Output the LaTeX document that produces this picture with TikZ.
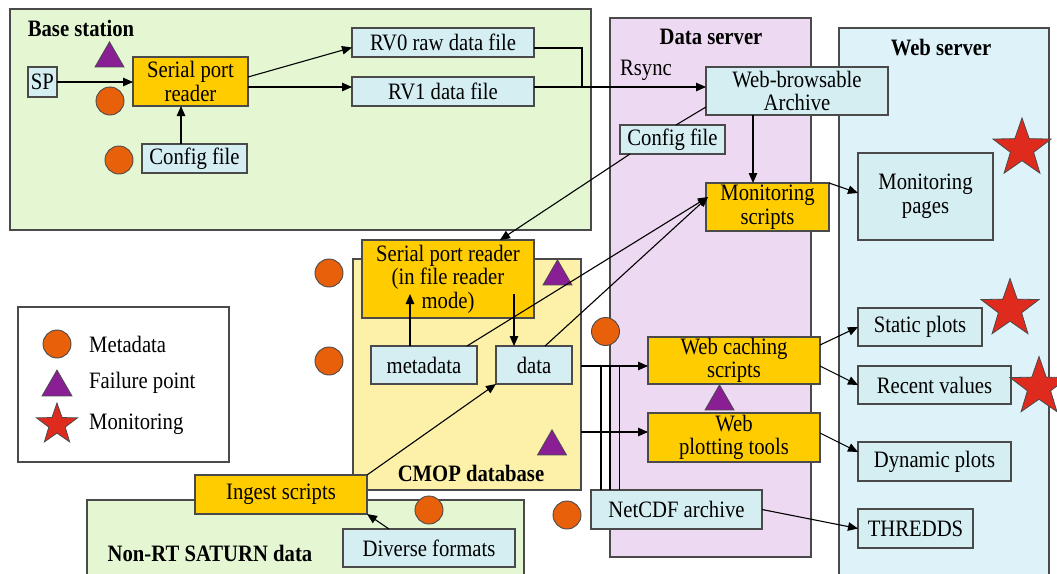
\documentclass[tikz,border=0pt]{standalone}
\usepackage{fontspec}
\setmainfont[FakeStretch=0.88]{Liberation Serif}
\usetikzlibrary{arrows.meta,calc,shapes.geometric}
\definecolor{bsgreen}{HTML}{E5F7D2}
\definecolor{dspink}{HTML}{EED9F3}
\definecolor{wsblue}{HTML}{DEF2FA}
\definecolor{cmopyel}{HTML}{FDF1A9}
\definecolor{boxcyan}{HTML}{D5EEF2}
\definecolor{boxorange}{HTML}{FFCC00}
\definecolor{dotorange}{HTML}{E8600A}
\definecolor{tripurple}{HTML}{8A1E95}
\definecolor{starred}{HTML}{DF2A1E}
\definecolor{edge}{HTML}{4A4A4A}
\begin{document}
\begin{tikzpicture}[x=1pt,y=-1pt,
  every node/.style={font=\fontsize{23.5}{23.5}\selectfont, text=black},
  container/.style={draw=edge, line width=1.2pt, anchor=north west, inner sep=0pt, outer sep=0pt},
  title/.style={font=\bfseries\fontsize{23.5}{23.5}\selectfont, inner sep=0pt},
  filebox/.style={draw=edge, line width=1.2pt, fill=boxcyan, inner sep=0pt, outer sep=0pt, align=center},
  procbox/.style={draw=edge, line width=1.2pt, fill=boxorange, inner sep=0pt, outer sep=0pt, align=center},
  mdot/.style={circle, fill=dotorange, draw=edge, line width=0.9pt, minimum size=28pt, inner sep=0pt},
  fpoint/.style={regular polygon, regular polygon sides=3, fill=tripurple, draw=edge, line width=0.8pt, minimum size=33.5pt, inner sep=0pt},
  mstar/.style={star, star points=5, star point ratio=2.5, fill=starred, draw=edge, line width=0.8pt, minimum size=61pt, inner sep=0pt},
  arr/.style={-{Triangle[length=10pt,width=8.5pt]}, line width=1.1pt},
  link/.style={line width=1.1pt}
]
\useasboundingbox (0,0) rectangle (1057,573);
\clip (0,0) rectangle (1057,573);
\fill[white] (0,0) rectangle (1057,573);

% containers
\node[container, fill=bsgreen, minimum width=581pt, minimum height=221pt] (base) at (10,9) {};
\node[container, fill=dspink, minimum width=201pt, minimum height=539pt] (dserver) at (610,18) {};
\node[container, fill=wsblue, minimum width=210pt, minimum height=570pt] (wserver) at (839,28) {};
\node[container, fill=cmopyel, minimum width=228pt, minimum height=231pt] (cmop) at (353,259) {};
\node[container, fill=bsgreen, minimum width=437pt, minimum height=100pt] (nonrt) at (87,500) {};
\node[container, fill=white, minimum width=211pt, minimum height=155pt] (legend) at (18,307) {};

% titles
\node[title] (tbase) at (81,28) {Base station};
\node[title] (tds) at (711,37) {Data server};
\node[title] (tws) at (941,48) {Web server};
\node[title] (tcmop) at (471,473) {CMOP database};
\node[title] (tnonrt) at (210,553) {Non-RT SATURN data};
\node[inner sep=0pt] (rsync) at (646,70) {Rsync};

% boxes
\node[filebox, minimum width=29pt, minimum height=30pt] (sp) at (42.5,82) {SP};
\node[procbox, minimum width=115pt, minimum height=49pt] (spr) at (190.5,81.5) {Serial port\\reader};
\node[filebox, minimum width=105pt, minimum height=29pt] (cfg1) at (194.5,158.5) {Config file};
\node[filebox, minimum width=182pt, minimum height=29pt] (rv0) at (443,42.5) {RV0 raw data file};
\node[filebox, minimum width=182pt, minimum height=29pt] (rv1) at (443,91.5) {RV1 data file};
\node[filebox, minimum width=182pt, minimum height=48pt] (wba) at (797,91) {Web-browsable\\Archive};
\node[filebox, minimum width=105pt, minimum height=29pt] (cfg2) at (672.5,139.5) {Config file};
\node[procbox, minimum width=123pt, minimum height=48pt] (mon) at (767.5,207) {Monitoring\\scripts};
\node[filebox, minimum width=135pt, minimum height=87pt] (monp) at (925.5,196.5) {Monitoring\\pages};
\node[procbox, minimum width=172pt, minimum height=78pt] (spr2) at (448,279) {Serial port reader\\(in file reader\\mode)};
\node[filebox, minimum width=106pt, minimum height=38pt] (meta) at (424,365) {metadata};
\node[filebox, minimum width=76pt, minimum height=38pt] (data) at (534,365) {data};
\node[procbox, minimum width=172pt, minimum height=47pt] (wcs) at (734,360.5) {Web caching\\scripts};
\node[procbox, minimum width=172pt, minimum height=49pt] (wpt) at (734,437.5) {Web\\plotting tools};
\node[procbox, minimum width=172pt, minimum height=39pt] (ingest) at (281,494.5) {Ingest scripts};
\node[filebox, minimum width=172pt, minimum height=38pt] (diverse) at (429,548) {Diverse formats};
\node[filebox, minimum width=171pt, minimum height=39pt] (netcdf) at (676.5,509.5) {NetCDF archive};
\node[filebox, minimum width=124pt, minimum height=38pt] (static) at (920,327) {Static plots};
\node[filebox, minimum width=153pt, minimum height=38pt] (recent) at (934.5,385) {Recent values};
\node[filebox, minimum width=153pt, minimum height=39pt] (dynamic) at (934.5,461.5) {Dynamic plots};
\node[filebox, minimum width=115pt, minimum height=39pt] (thredds) at (915.5,528.5) {THREDDS};

% markers
\node[mdot] (d1) at (110,101) {};
\node[mdot] (d2) at (119,160) {};
\node[mdot] (d3) at (329,273) {};
\node[mdot] (d4) at (329,361) {};
\node[mdot] (d5) at (605.5,331.5) {};
\node[mdot] (d6) at (429,510) {};
\node[mdot] (d7) at (567,515) {};
\node[fpoint] (f1) at (109.5,58.6) {};
\node[fpoint] (f2) at (557.5,276.6) {};
\node[fpoint] (f3) at (719.5,401.6) {};
\node[fpoint] (f4) at (552,446.6) {};
\node[mstar] (s1) at (1022,148.5) {};
\node[mstar] (s2) at (1010,309) {};
\node[mstar] (s3) at (1039,387) {};

% legend
\node[mdot] (ld) at (57,344) {};
\node[fpoint, minimum size=34.5pt] (lf) at (57,387.3) {};
\node[mstar, minimum size=43pt] (ls) at (57,424.5) {};
\node[anchor=west, inner sep=0pt] (lt1) at (89,344) {Metadata};
\node[anchor=west, inner sep=0pt] (lt2) at (89,383) {Failure point};
\node[anchor=west, inner sep=0pt] (lt3) at (89,424) {Monitoring};

% connectors
\coordinate (j1) at (582,87);
\draw[arr] (sp.east) -- (sp.east -| spr.west);
\draw[arr] ($(spr.east)+(0,-4.5)$) -- ($(rv0.west)+(0,5)$);
\draw[arr] ($(spr.east)+(0,5.5)$) -- ($(rv1.west)+(0,-4.5)$);
\draw[arr] ($(cfg1.north)+(-13.5,0)$) -- ($(spr.south)+(-9.5,0)$);
\draw[link] ($(rv0.east)+(0,5.5)$) -| (j1);
\draw[arr] ($(rv1.east)+(0,-4.5)$) -- ($(wba.west)+(0,-4)$);
\draw[link] ($(wba.west)+(0,16)$) -- ($(cfg2.north)+(3.5,0)$);
\draw[arr] ($(cfg2.south)+(-42.5,0)$) -- ($(spr2.north)+(52,0)$);
\draw[arr] ($(wba.south)+(-44,0)$) -- ($(mon.north)+(-14.5,0)$);
\draw[arr] (mon.north east) -- ($(monp.west)+(0,-3.5)$);
\draw[arr] ($(meta.north)+(43,0)$) -- ($(mon.west)+(2,-10)$);
\draw[arr] ($(data.north)+(11,0)$) -- ($(mon.west)+(2,-10)$);
\draw[arr] ($(meta.north)+(-14,0)$) -- ($(spr2.south)+(-38,-24)$);
\draw[arr] ($(spr2.south)+(66,-24)$) -- ($(data.north)+(-20,0)$);
\draw[arr] (ingest.north east) -- (data.south west);
\draw[arr] ($(diverse.north west)+(46,0)$) -- (ingest.south east);
\coordinate (h1) at ($(wcs.west)+(0,5.5)$);
\coordinate (h2) at ($(wpt.west)+(0,-5.5)$);
\draw[arr] (h1 -| cmop.east) -- (h1);
\draw[arr] (h2 -| cmop.east) -- (h2);
\coordinate (v1) at (601,366);
\coordinate (v2) at (610,366);
\coordinate (v3) at (619.5,366);
\draw[link] (v1) -- (v1 |- netcdf.north);
\draw[link] (v2) -- (v2 |- netcdf.north);
\draw[link] (v3) -- (v3 |- netcdf.north);
\draw[arr] ($(wcs.east)+(0,-15.5)$) -- (static.west);
\draw[arr] ($(wcs.east)+(0,5.5)$) -- (recent.west);
\draw[arr] ($(wpt.east)+(0,-4.5)$) -- ($(dynamic.west)+(0,-9.5)$);
\draw[arr] (netcdf.east) -- (thredds.west);
\end{tikzpicture}
\end{document}
